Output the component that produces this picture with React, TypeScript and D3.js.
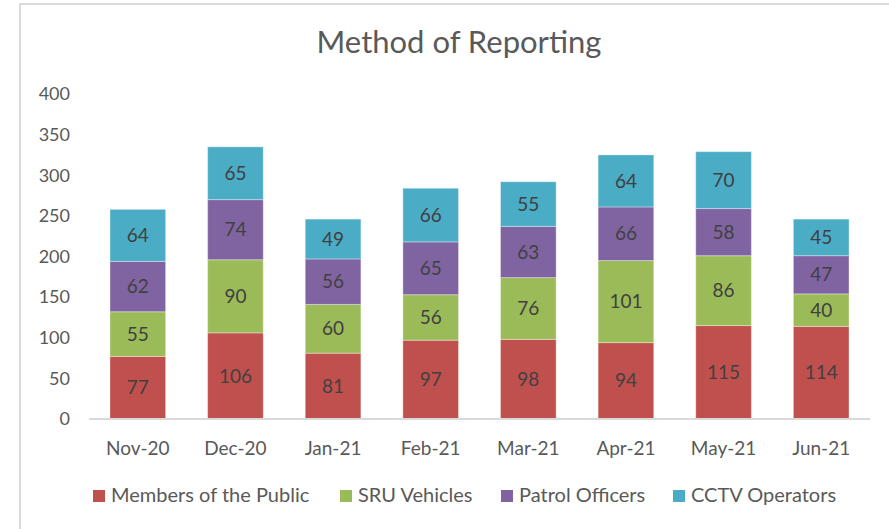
import * as d3 from 'd3';
import React from 'react';

const months = ['Nov-20', 'Dec-20', 'Jan-21', 'Feb-21', 'Mar-21', 'Apr-21', 'May-21', 'Jun-21'];
const seriesNames = ['Members of the Public', 'SRU Vehicles', 'Patrol Officers', 'CCTV Operators'];
const membersOfPublic = [77, 106, 81, 97, 98, 94, 115, 114];
const sruVehicles = [55, 90, 60, 56, 76, 101, 86, 40];
const patrolOfficers = [62, 74, 56, 65, 63, 66, 58, 47];
const cctvOperators = [64, 65, 49, 66, 55, 64, 70, 45];
const colors = ['#C0504D', '#9BBB59', '#8064A2', '#4BACC6'];
const yTicks = [0, 50, 100, 150, 200, 250, 300, 350, 400];

const width = 889;
const height = 529;
const font = 'Lato, "Open Sans", sans-serif';

const App = () => {
  const marginLeft = 89;
  const marginRight = 19;
  const top = 94;
  const bottom = 419;

  const rows = months.map((m, i) => ({
    month: m,
    s0: membersOfPublic[i],
    s1: sruVehicles[i],
    s2: patrolOfficers[i],
    s3: cctvOperators[i],
  }));
  const stack = d3.stack().keys(['s0', 's1', 's2', 's3'])(rows as any);

  const x = d3.scaleBand(months, [marginLeft, width - marginRight]).paddingInner(0.43).paddingOuter(0.215);
  const y = d3.scaleLinear([0, 400], [bottom, top]);

  // legend swatch x positions
  const legendX = [93, 340, 501, 673];

  return (
    <svg width={width} height={height} style={{ position: 'absolute', left: 0, top: 0 }}>
      <rect x={0} y={0} width={width} height={height} fill="white" />
      <path d={`M20,${height} V4 H${width}`} fill="none" stroke="#d9d9d9" strokeWidth={2} />
      <text x={459} y={53} textAnchor="middle" fontFamily={font} fontSize={31} fill="#595959">
        Method of Reporting
      </text>
      <g fontFamily={font} fontSize={18} fill="#595959">
        {yTicks.map((t) => (
          <text key={t} x={70} y={y(t)} dy="0.35em" textAnchor="end">{t}</text>
        ))}
      </g>
      {stack.map((layer, si) => (
        <g key={si}>
          {layer.map((d, i) => (
            <g key={i}>
              <rect
                x={x(months[i])}
                y={y(d[1])}
                width={x.bandwidth()}
                height={y(d[0]) - y(d[1])}
                fill={colors[si]}
                stroke="white"
                strokeOpacity={0.35}
                strokeWidth={1}
              />
              <text
                x={x(months[i])! + x.bandwidth() / 2}
                y={(y(d[0]) + y(d[1])) / 2}
                dy="0.35em"
                textAnchor="middle"
                fontFamily={font}
                fontSize={19}
                fill="#404040"
              >
                {d[1] - d[0]}
              </text>
            </g>
          ))}
        </g>
      ))}
      <line x1={marginLeft} x2={width - marginRight} y1={bottom} y2={bottom} stroke="#d9d9d9" strokeWidth={2} />
      <g fontFamily={font} fontSize={19} fill="#595959">
        {months.map((m) => (
          <text key={m} x={x(m)! + x.bandwidth() / 2} y={455} textAnchor="middle">{m}</text>
        ))}
      </g>
      <g fontFamily={font} fontSize={20} fill="#595959">
        {seriesNames.map((n, i) => (
          <g key={n}>
            <rect x={legendX[i]} y={490} width={12} height={12} fill={colors[i]} />
            <text x={legendX[i] + 18} y={502}>{n}</text>
          </g>
        ))}
      </g>
    </svg>
  );
};

export default App;
